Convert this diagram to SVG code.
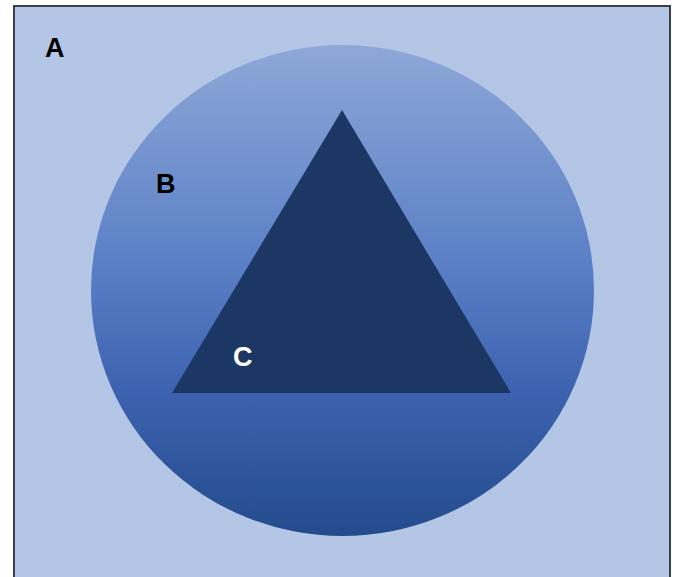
<svg xmlns="http://www.w3.org/2000/svg" width="675" height="577" viewBox="0 0 675 577">
<defs>
<linearGradient id="g" x1="0" y1="0" x2="0" y2="1">
<stop offset="0" stop-color="#8ea8d8"/>
<stop offset="0.45" stop-color="#5a7fc6"/>
<stop offset="0.7" stop-color="#3d63b0"/>
<stop offset="1" stop-color="#234b8c"/>
</linearGradient>
<style>
.lbl{font-family:"Liberation Sans",Arial,sans-serif;font-weight:bold;font-size:27px}
</style>
</defs>
<rect width="675" height="577" fill="#ffffff"/>
<g id="A">
<rect x="14" y="6" width="656" height="580" fill="#b4c6e6" stroke="#3a3f4a" stroke-width="2"/>
<text class="lbl" x="45" y="57" fill="#000">A</text>
</g>
<g id="B">
<ellipse cx="342.5" cy="290.5" rx="251.5" ry="245.5" fill="url(#g)"/>
<text class="lbl" x="156" y="193" fill="#000">B</text>
</g>
<g id="C">
<polygon points="342,110 511,393 172,393" fill="#1d3764"/>
<text class="lbl" x="233" y="366" fill="#fff">C</text>
</g>
<g id="connectors"/>
</svg>
